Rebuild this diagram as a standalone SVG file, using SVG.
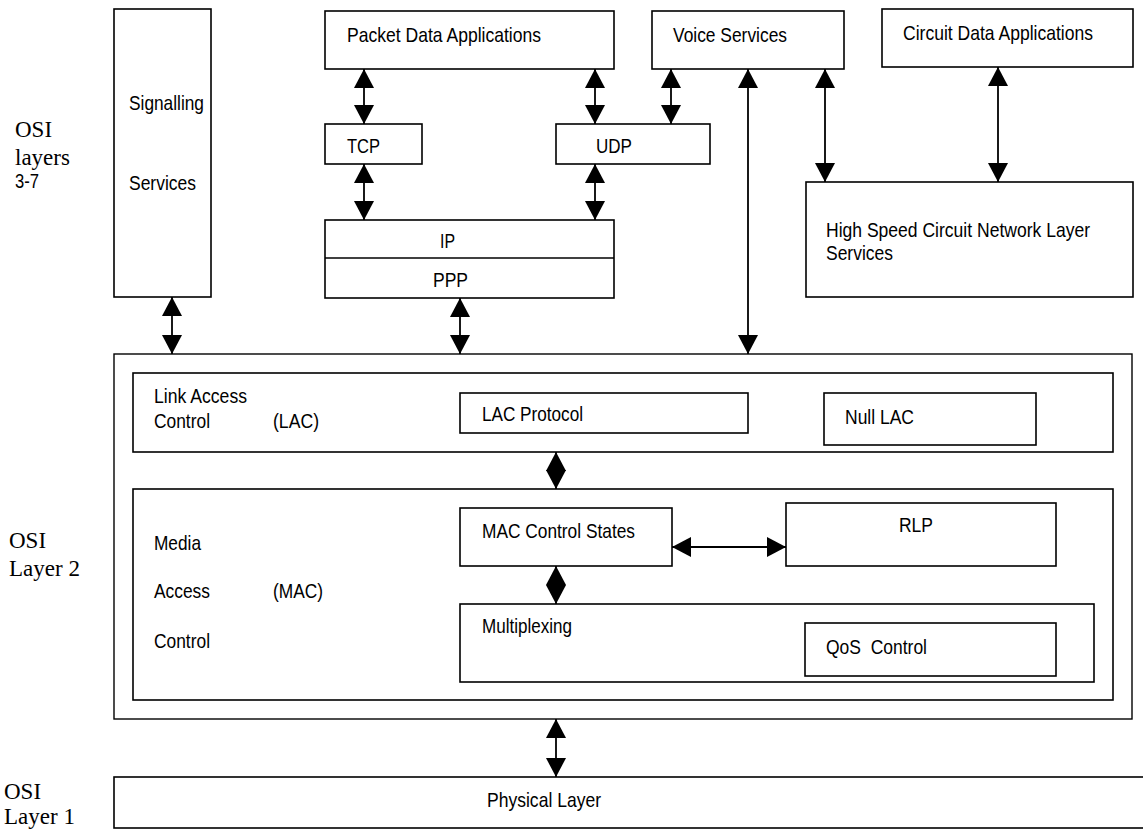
<svg xmlns="http://www.w3.org/2000/svg" width="1143" height="829" viewBox="0 0 1143 829">
<style>
  rect.box{fill:#fff;stroke:#000;stroke-width:1.6}
  rect.frame{fill:none;stroke:#000;stroke-width:1.4}
  line.div{stroke:#000;stroke-width:1.4}
  text{font-family:"Liberation Sans",Arial,sans-serif;font-size:21px;fill:#000}
  text.serif{font-family:"Liberation Serif","Times New Roman",serif;font-size:23px}
  #connectors line{stroke:#000;stroke-width:1.8;marker-start:url(#ah);marker-end:url(#ah)}
</style>
<defs>
  <marker id="ah" viewBox="0 0 19 20" refX="19" refY="10" markerWidth="19" markerHeight="20" markerUnits="userSpaceOnUse" orient="auto-start-reverse">
    <path d="M0,0 L19,10 L0,20 Z" fill="#000"/>
  </marker>
</defs>
<rect width="1143" height="829" fill="#fff"/>

<g id="labels">
  <text class="serif" x="15" y="137">OSI</text>
  <text class="serif" x="15" y="165">layers</text>
  <text x="15" y="188" font-size="20" textLength="24" lengthAdjust="spacingAndGlyphs">3-7</text>
  <text class="serif" x="9" y="548">OSI</text>
  <text class="serif" x="9" y="576">Layer 2</text>
  <text class="serif" x="4" y="799">OSI</text>
  <text class="serif" x="4" y="824">Layer 1</text>
</g>

<g id="signalling">
  <rect class="box" x="114" y="9" width="97" height="288"/>
  <text x="129" y="110" textLength="75" lengthAdjust="spacingAndGlyphs">Signalling</text>
  <text x="129" y="190" textLength="67" lengthAdjust="spacingAndGlyphs">Services</text>
</g>
<g id="packet-data">
  <rect class="box" x="325" y="11" width="289" height="58"/>
  <text x="347" y="42" textLength="194" lengthAdjust="spacingAndGlyphs">Packet Data Applications</text>
</g>
<g id="voice">
  <rect class="box" x="652" y="11" width="192" height="58"/>
  <text x="673" y="42" textLength="114" lengthAdjust="spacingAndGlyphs">Voice Services</text>
</g>
<g id="circuit-data">
  <rect class="box" x="882" y="9" width="251" height="58"/>
  <text x="903" y="40" textLength="190" lengthAdjust="spacingAndGlyphs">Circuit Data Applications</text>
</g>
<g id="tcp">
  <rect class="box" x="325" y="124" width="97" height="40"/>
  <text x="347" y="153" textLength="33" lengthAdjust="spacingAndGlyphs">TCP</text>
</g>
<g id="udp">
  <rect class="box" x="556" y="124" width="154" height="40"/>
  <text x="596" y="153" textLength="36" lengthAdjust="spacingAndGlyphs">UDP</text>
</g>
<g id="ip-ppp">
  <rect class="box" x="325" y="220" width="289" height="78"/>
  <line class="div" x1="325" y1="258" x2="614" y2="258"/>
  <text x="440" y="248" textLength="15" lengthAdjust="spacingAndGlyphs">IP</text>
  <text x="433" y="287" textLength="35" lengthAdjust="spacingAndGlyphs">PPP</text>
</g>
<g id="high-speed">
  <rect class="box" x="806" y="182" width="327" height="115"/>
  <text x="826" y="237" textLength="264" lengthAdjust="spacingAndGlyphs">High Speed Circuit Network Layer</text>
  <text x="826" y="260" textLength="67" lengthAdjust="spacingAndGlyphs">Services</text>
</g>

<g id="layer2">
  <rect class="frame" x="114" y="354" width="1018" height="365"/>
</g>
<g id="lac">
  <rect class="box" x="133" y="373" width="980" height="79"/>
  <text x="154" y="403" textLength="93" lengthAdjust="spacingAndGlyphs">Link Access</text>
  <text x="154" y="428" textLength="56" lengthAdjust="spacingAndGlyphs">Control</text>
  <text x="273" y="428" textLength="46" lengthAdjust="spacingAndGlyphs">(LAC)</text>
</g>
<g id="lac-protocol">
  <rect class="box" x="460" y="393" width="288" height="40"/>
  <text x="482" y="421" textLength="101" lengthAdjust="spacingAndGlyphs">LAC Protocol</text>
</g>
<g id="null-lac">
  <rect class="box" x="824" y="393" width="212" height="52"/>
  <text x="845" y="424" textLength="69" lengthAdjust="spacingAndGlyphs">Null LAC</text>
</g>
<g id="mac">
  <rect class="box" x="133" y="489" width="980" height="211"/>
  <text x="154" y="550" textLength="47" lengthAdjust="spacingAndGlyphs">Media</text>
  <text x="154" y="598" textLength="56" lengthAdjust="spacingAndGlyphs">Access</text>
  <text x="273" y="598" textLength="50" lengthAdjust="spacingAndGlyphs">(MAC)</text>
  <text x="154" y="648" textLength="56" lengthAdjust="spacingAndGlyphs">Control</text>
</g>
<g id="mac-control-states">
  <rect class="box" x="460" y="508" width="212" height="58"/>
  <text x="482" y="538" textLength="153" lengthAdjust="spacingAndGlyphs">MAC Control States</text>
</g>
<g id="rlp">
  <rect class="box" x="786" y="503" width="270" height="63"/>
  <text x="899" y="532" textLength="34" lengthAdjust="spacingAndGlyphs">RLP</text>
</g>
<g id="multiplexing">
  <rect class="box" x="460" y="604" width="634" height="78"/>
  <text x="482" y="633" textLength="90" lengthAdjust="spacingAndGlyphs">Multiplexing</text>
</g>
<g id="qos">
  <rect class="box" x="805" y="623" width="251" height="53"/>
  <text x="826" y="654" textLength="101" lengthAdjust="spacingAndGlyphs" xml:space="preserve">QoS  Control</text>
</g>
<g id="physical">
  <rect class="box" x="114" y="777" width="1040" height="51"/>
  <text x="487" y="807" textLength="114" lengthAdjust="spacingAndGlyphs">Physical Layer</text>
</g>

<g id="connectors">
  <line x1="364" y1="69" x2="364" y2="124"/>
  <line x1="364" y1="164" x2="364" y2="220"/>
  <line x1="595" y1="69" x2="595" y2="124"/>
  <line x1="671" y1="69" x2="671" y2="124"/>
  <line x1="595" y1="164" x2="595" y2="220"/>
  <line x1="748" y1="69" x2="748" y2="354"/>
  <line x1="825" y1="69" x2="825" y2="182"/>
  <line x1="998" y1="67" x2="998" y2="182"/>
  <line x1="172" y1="297" x2="172" y2="354"/>
  <line x1="460" y1="298" x2="460" y2="354"/>
  <line x1="556" y1="452" x2="556" y2="489"/>
  <line x1="556" y1="566" x2="556" y2="604"/>
  <line x1="672" y1="547" x2="786" y2="547"/>
  <line x1="556" y1="719" x2="556" y2="777"/>
</g>
</svg>
